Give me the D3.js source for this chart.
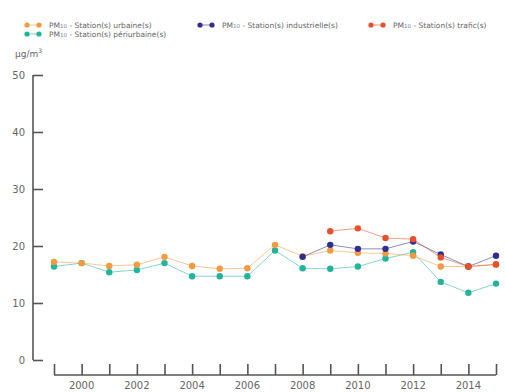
<!DOCTYPE html>
<html>
<head>
<meta charset="utf-8">
<script src="https://cdn.jsdelivr.net/npm/d3@7"></script>
<style>
  html, body { margin: 0; padding: 0; background: #fff; }
  svg { display: block; font-family: "DejaVu Sans", "Noto Sans", sans-serif; }
</style>
</head>
<body>
<svg id="chart" width="505" height="392"></svg>
<script>
// PM10 annual means (µg/m³) by station type
const years = [1999, 2000, 2001, 2002, 2003, 2004, 2005, 2006, 2007, 2008, 2009, 2010, 2011, 2012, 2013, 2014, 2015];
const urbaine     = [17.2, 17.0, 16.5, 16.7, 18.1, 16.5, 16.0, 16.1, 20.2, 18.2, 19.2, 18.8, 18.7, 18.3, 16.4, 16.4, 16.7];
const periurbaine = [16.4, 17.0, 15.4, 15.8, 17.0, 14.7, 14.7, 14.7, 19.2, 16.1, 16.0, 16.4, 17.8, 18.9, 13.7, 11.8, 13.4];
const industrielle = [null, null, null, null, null, null, null, null, null, 18.1, 20.2, 19.5, 19.5, 20.8, 18.5, 16.4, 18.3];
const trafic      = [null, null, null, null, null, null, null, null, null, null, 22.6, 23.1, 21.4, 21.2, 18.0, 16.4, 16.8];
const yTicks = [0, 10, 20, 30, 40, 50];
const xLabels = [2000, 2002, 2004, 2006, 2008, 2010, 2012, 2014];

const series = [
  { name: "Station(s) périurbaine(s)", values: periurbaine, color: "#22b49a", lx: 27, ly: 34 },
  { name: "Station(s) urbaine(s)", values: urbaine, color: "#f39a3e", lx: 27, ly: 25 },
  { name: "Station(s) industrielle(s)", values: industrielle, color: "#2e2e8e", lx: 200, ly: 25 },
  { name: "Station(s) trafic(s)", values: trafic, color: "#e84f2a", lx: 371, ly: 25 }
];

const svg = d3.select("#chart");
const x = d3.scaleLinear().domain([1999, 2015]).range([54, 496]);
const y = d3.scaleLinear().domain([0, 50]).range([360, 75]);
const axisColor = "#555";
const textColor = "#666";

// Y axis (ticks pointing inward)
const yAxis = svg.append("g").attr("transform", "translate(33,0)")
  .call(d3.axisRight(y).tickValues(yTicks).tickSize(10).tickFormat(""));
yAxis.select(".domain").attr("d", `M0,${y(50)}V${y(0)}`).attr("stroke", axisColor).attr("stroke-width", 1.6);
yAxis.selectAll(".tick line").attr("stroke", axisColor).attr("stroke-width", 1.6);
svg.append("g").selectAll("text").data(yTicks).join("text")
  .attr("x", 25).attr("y", d => y(d)).attr("dy", "0.35em")
  .attr("text-anchor", "end").attr("font-size", 10).attr("fill", textColor)
  .text(d => d);

// Unit label
const unit = svg.append("text").attr("x", 15).attr("y", 57).attr("font-size", 9).attr("fill", textColor);
unit.append("tspan").text("µg/m");
unit.append("tspan").attr("font-size", 6).attr("dy", -4).text("3");

// X axis (ticks pointing up, one per year)
const xAxis = svg.append("g").attr("transform", "translate(0,375)")
  .call(d3.axisTop(x).tickValues(years).tickSize(11).tickFormat(""));
xAxis.select(".domain").attr("d", `M${x(1999)},0H${x(2015)}`).attr("stroke", axisColor).attr("stroke-width", 1.6);
xAxis.selectAll(".tick line").attr("stroke", axisColor).attr("stroke-width", 1.6);
svg.append("g").selectAll("text").data(xLabels).join("text")
  .attr("x", d => x(d)).attr("y", 389)
  .attr("text-anchor", "middle").attr("font-size", 10).attr("fill", textColor)
  .text(d => d);

// Series lines and markers
const line = d3.line()
  .defined(d => d.v !== null)
  .x(d => x(d.year)).y(d => y(d.v));

series.forEach(s => {
  const pts = years.map((yr, i) => ({ year: yr, v: s.values[i] }));
  const g = svg.append("g");
  g.append("path").datum(pts).attr("d", line)
    .attr("fill", "none").attr("stroke", s.color).attr("stroke-width", 1).attr("stroke-opacity", 0.55);
  g.selectAll("circle").data(pts.filter(d => d.v !== null)).join("circle")
    .attr("cx", d => x(d.year)).attr("cy", d => y(d.v)).attr("r", 3.2)
    .attr("fill", s.color);
});

// Legend
series.forEach(s => {
  const g = svg.append("g").attr("transform", `translate(${s.lx},${s.ly})`);
  g.append("line").attr("x1", 0).attr("x2", 12).attr("stroke", s.color).attr("stroke-opacity", 0.6);
  g.append("circle").attr("cx", 0).attr("r", 2.6).attr("fill", s.color);
  g.append("circle").attr("cx", 12).attr("r", 2.6).attr("fill", s.color);
  const t = g.append("text").attr("x", 22).attr("dy", "0.35em").attr("font-size", 7.5).attr("fill", textColor);
  t.append("tspan").text("PM");
  t.append("tspan").attr("font-size", 5.5).attr("fill", "#7a86b0").text("10");
  t.append("tspan").text(" - " + s.name);
});
</script>
</body>
</html>
